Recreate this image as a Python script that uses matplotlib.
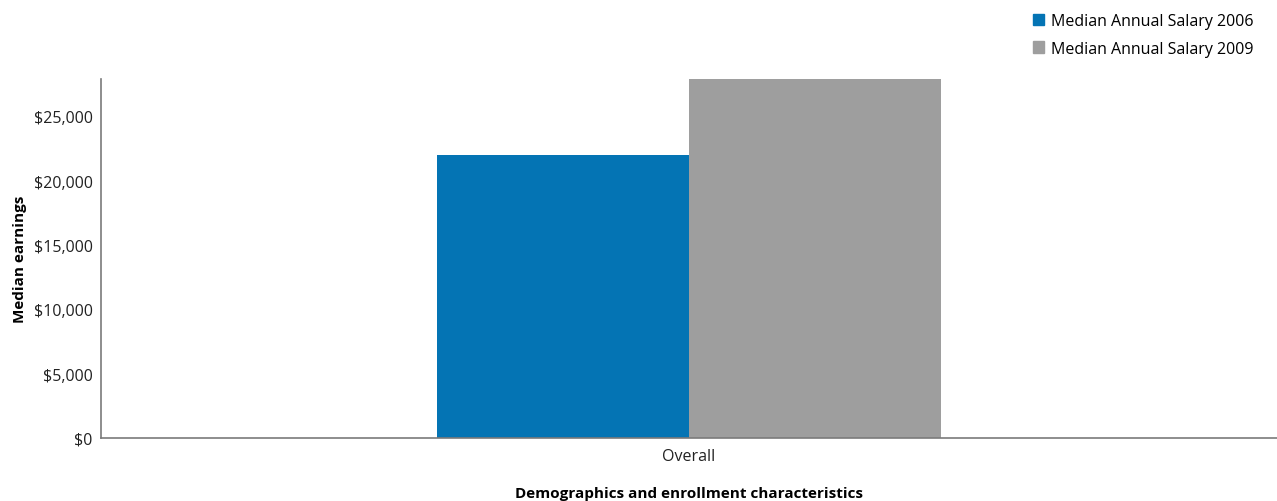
import numpy as np
import matplotlib.pyplot as plt
from matplotlib.patches import Patch
from matplotlib.ticker import FuncFormatter

# ---- Data ---- #
categories = ["Overall"]
series_names = ["Median Annual Salary 2006", "Median Annual Salary 2009"]
salary_2006 = [22000]
salary_2009 = [28000]
colors = ["#0474b4", "#9e9e9e"]

plt.rcParams["font.family"] = ["Open Sans", "DejaVu Sans"]

# ---- Figure ---- #
fig = plt.figure(figsize=(12.77, 5.02), dpi=100)
ax = fig.add_axes([101 / 1277, 1 - 439 / 502, 1176 / 1277, 359 / 502])

x = np.arange(len(categories))
width = 0.214
ax.bar(x - width / 2, salary_2006, width, color=colors[0], label=series_names[0])
ax.bar(x + width / 2, salary_2009, width, color=colors[1], label=series_names[1])

ax.set_xlim(-0.5, 0.5)
ax.set_ylim(0, 27900)
ax.set_yticks(np.arange(0, 25001, 5000))
ax.yaxis.set_major_formatter(FuncFormatter(lambda v, p: f"${v:,.0f}"))
ax.set_xticks(x)
ax.set_xticklabels(categories)
ax.tick_params(axis="both", length=0, labelsize=11.5, colors="#222222", pad=6)
ax.tick_params(axis="x", pad=7)

for s in ["top", "right"]:
    ax.spines[s].set_visible(False)
for s in ["left", "bottom"]:
    ax.spines[s].set_color("#7a7a7a")
    ax.spines[s].set_linewidth(1.2)

ax.set_ylabel("Median earnings", fontsize=11, fontweight="bold", labelpad=5)
ax.set_xlabel("Demographics and enrollment characteristics", fontsize=11,
              fontweight="bold", labelpad=16)

handles = [Patch(color=c, label=n) for c, n in zip(colors, series_names)]
fig.legend(handles=handles, loc="upper right", bbox_to_anchor=(0.99, 0.995),
           frameon=False, fontsize=11.5, handlelength=0.7, handleheight=0.7,
           handletextpad=0.4, labelspacing=0.75, borderaxespad=0.3)

fig.savefig("out.png", dpi=100)
